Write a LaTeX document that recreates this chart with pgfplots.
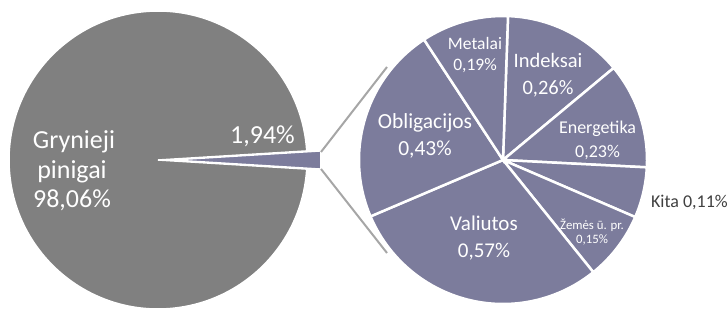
\documentclass[border=0pt]{standalone}
\usepackage{pgfplots}
\pgfplotsset{compat=1.18}
\usepackage{fontspec}
\setmainfont{Carlito}
\definecolor{leftgrey}{RGB}{128,128,128}
\definecolor{pieblue}{RGB}{124,124,156}
\definecolor{conn}{RGB}{166,166,166}
\definecolor{darktext}{RGB}{64,64,64}
% data (percent of total)
\def\vCash{98.06}
\def\vOther{1.94}
\def\vInd{0.26}
\def\vEne{0.23}
\def\vKit{0.11}
\def\vZem{0.15}
\def\vVal{0.57}
\def\vObl{0.43}
\def\vMet{0.19}
% angles
\pgfmathsetmacro\halfOther{360*\vOther/100/2}
\pgfmathsetmacro\aA{88}
\pgfmathsetmacro\aB{\aA-360*\vInd/\vOther}
\pgfmathsetmacro\aC{\aB-360*\vEne/\vOther}
\pgfmathsetmacro\aD{\aC-360*\vKit/\vOther}
\pgfmathsetmacro\aE{\aD-360*\vZem/\vOther}
\pgfmathsetmacro\aF{\aE-360*\vVal/\vOther}
\pgfmathsetmacro\aG{\aF-360*\vObl/\vOther}
\pgfmathsetmacro\aH{\aG-360*\vMet/\vOther}
\newcommand\slice[7]{% cx cy r start end fill borderwidth
  \edef\temp{\noexpand\filldraw[fill=#6,draw=white,line width=#7]
    (axis cs:#1,#2) -- ++(#4:#3) arc[start angle=#4,end angle=#5,radius=#3] -- cycle;}\temp}
\begin{document}
\begin{tikzpicture}
\begin{axis}[
  scale only axis, width=728bp, height=308bp,
  xmin=0, xmax=728, ymin=0, ymax=308,
  hide axis, clip=false,
]
\path (axis cs:0,0) rectangle (axis cs:728,308);
% left pie
\slice{158}{148}{149bp}{\halfOther}{360-\halfOther}{leftgrey}{1.5bp}
\slice{172}{148}{149bp}{-\halfOther}{\halfOther}{pieblue}{1.5bp}
% connector lines
\draw[conn, line width=2bp] (axis cs:321,156) -- (axis cs:387,241);
\draw[conn, line width=2bp] (axis cs:321,139) -- (axis cs:387,55);
% right pie
\slice{503}{148}{144bp}{\aB}{\aA}{pieblue}{2.5bp}
\slice{503}{148}{144bp}{\aC}{\aB}{pieblue}{2.5bp}
\slice{503}{148}{144bp}{\aD}{\aC}{pieblue}{2.5bp}
\slice{503}{148}{144bp}{\aE}{\aD}{pieblue}{2.5bp}
\slice{503}{148}{144bp}{\aF}{\aE}{pieblue}{2.5bp}
\slice{503}{148}{144bp}{\aG}{\aF}{pieblue}{2.5bp}
\slice{503}{148}{144bp}{\aH}{\aG}{pieblue}{2.5bp}
% labels left
\node[anchor=base, white, font=\fontsize{26bp}{30bp}\selectfont] at (axis cs:74,160) {Grynieji};
\node[anchor=base, white, font=\fontsize{26bp}{30bp}\selectfont] at (axis cs:72,130) {pinigai};
\node[anchor=base, white, font=\fontsize{26bp}{30bp}\selectfont] at (axis cs:72,101) {98,06\%};
\node[anchor=base, white, font=\fontsize{26bp}{30bp}\selectfont] at (axis cs:262.5,165) {1,94\%};
% labels right
\node[anchor=base, white, font=\fontsize{17.5bp}{20bp}\selectfont] at (axis cs:475,258) {Metalai};
\node[anchor=base, white, font=\fontsize{17.5bp}{20bp}\selectfont] at (axis cs:475,237) {0,19\%};
\node[anchor=base, white, font=\fontsize{20.5bp}{24bp}\selectfont] at (axis cs:548,240) {Indeksai};
\node[anchor=base, white, font=\fontsize{20.5bp}{24bp}\selectfont] at (axis cs:548,213) {0,26\%};
\node[anchor=base, white, font=\fontsize{21.5bp}{25bp}\selectfont] at (axis cs:425,180) {Obligacijos};
\node[anchor=base, white, font=\fontsize{21.5bp}{25bp}\selectfont] at (axis cs:425,153) {0,43\%};
\node[anchor=base, white, font=\fontsize{18bp}{21bp}\selectfont] at (axis cs:597.5,175) {Energetika};
\node[anchor=base, white, font=\fontsize{18bp}{21bp}\selectfont] at (axis cs:597.5,151) {0,23\%};
\node[anchor=base, white, font=\fontsize{21bp}{25bp}\selectfont] at (axis cs:484,78) {Valiutos};
\node[anchor=base, white, font=\fontsize{21bp}{25bp}\selectfont] at (axis cs:484,51) {0,57\%};
\node[anchor=base, white, font=\fontsize{12.8bp}{15bp}\selectfont] at (axis cs:592,79) {Žemės ū. pr.};
\node[anchor=base, white, font=\fontsize{12.8bp}{15bp}\selectfont] at (axis cs:592,65) {0,15\%};
\node[anchor=base east, inner xsep=0pt, darktext, font=\fontsize{18bp}{21bp}\selectfont] at (axis cs:728,101) {Kita 0,11\%};
\end{axis}
\end{tikzpicture}
\end{document}
